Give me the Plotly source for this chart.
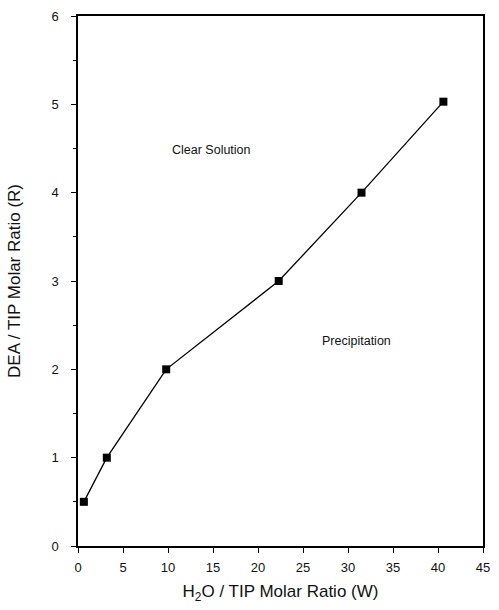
import plotly.graph_objects as go

W = [0.65, 3.2, 9.8, 22.3, 31.5, 40.6]
R = [0.5, 1.0, 2.0, 3.0, 4.0, 5.03]
x_ticks = [0, 5, 10, 15, 20, 25, 30, 35, 40, 45]
y_ticks = [0, 1, 2, 3, 4, 5, 6]

fig = go.Figure()
fig.add_trace(go.Scatter(
    x=W, y=R, mode="lines+markers",
    line=dict(color="black", width=1.3),
    marker=dict(symbol="square", size=8, color="black"),
    showlegend=False,
))

font = "Liberation Sans, Arial, sans-serif"
fig.update_layout(
    width=499, height=610,
    margin=dict(l=78, r=9, t=11, b=64),
    plot_bgcolor="white", paper_bgcolor="white",
    font=dict(family=font, color="#111", size=13),
    xaxis=dict(
        range=[0, 45], tickvals=x_ticks, showgrid=False, zeroline=False,
        showline=True, linecolor="black", linewidth=1.5, mirror=True,
        ticks="outside", ticklen=5, tickcolor="black", tickwidth=1,
        ticklabelstandoff=4,
        title=dict(text="H<sub>2</sub>O / TIP Molar Ratio (W)", font=dict(size=17), standoff=11),
        tickfont=dict(size=13),
    ),
    yaxis=dict(
        range=[0, 6], tickvals=y_ticks, showgrid=False, zeroline=False,
        showline=True, linecolor="black", linewidth=1.5, mirror=True,
        ticks="outside", ticklen=5, tickcolor="black", tickwidth=1,
        ticklabelstandoff=10,
        minor=dict(dtick=0.5, ticks="outside", ticklen=3, tickcolor="black", tickwidth=1),
        title=dict(text="DEA / TIP Molar Ratio (R)", font=dict(size=17), standoff=26),
        tickfont=dict(size=13),
    ),
    annotations=[
        dict(x=14.8, y=4.48, text="Clear Solution", showarrow=False,
             font=dict(size=12.5), xref="x", yref="y"),
        dict(x=30.9, y=2.32, text="Precipitation", showarrow=False,
             font=dict(size=12.5), xref="x", yref="y"),
    ],
)

fig.write_html("out.html")
